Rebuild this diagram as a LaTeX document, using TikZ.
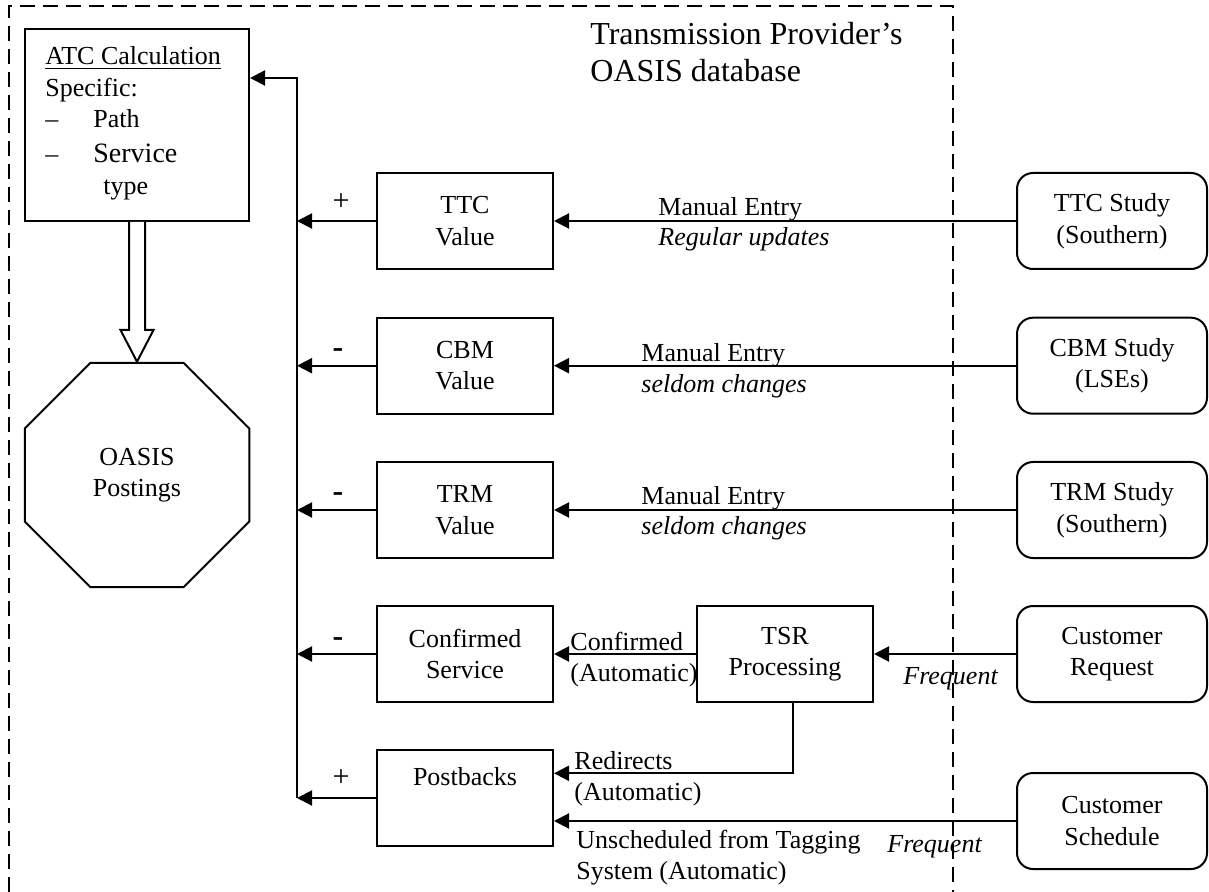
\documentclass[tikz,border=0pt]{standalone}
\usepackage{fontspec}
\setmainfont{Liberation Serif}
\usetikzlibrary{shapes.geometric,arrows.meta,calc}
\begin{document}
\begin{tikzpicture}[x=0.5pt,y=-0.5pt,
  every node/.style={font=\fontsize{13}{15.8}\selectfont},
  box/.style={draw,line width=1pt,minimum width=88pt,minimum height=48pt,inner sep=0pt,align=center},
  rbox/.style={draw,line width=1pt,rounded corners=8pt,minimum width=95pt,minimum height=48pt,inner sep=0pt,align=center},
  arr/.style={line width=1pt,-{Triangle[length=7.5pt,width=7.5pt]}},
  lbl/.style={anchor=base west,inner sep=0pt},
  sign/.style={inner sep=0pt,font=\fontsize{15}{17}\selectfont},
  minus/.style={inner sep=0pt,font=\fontsize{16}{18}\selectfont\bfseries},
  border/.style={line width=1pt,dash pattern=on 7.5pt off 4pt}]
\useasboundingbox (0,0) rectangle (1209,892);
% provider border
\draw[border] (9,892) -- (9,6) -- (953,6) -- (953,892);
\node[lbl,font=\fontsize{16}{18}\selectfont] (title1) at (590,45) {Transmission Provider’s};
\node[lbl,font=\fontsize{16}{18}\selectfont] (title2) at (590,81.7) {OASIS database};
% ATC box
\node[draw,line width=1pt,minimum width=112pt,minimum height=96pt,inner sep=0pt] (atc) at (137,125) {};
\node[lbl] (atc1) at (45,65) {\underline{ATC Calculation}};
\node[lbl] (atc2) at (45,96.7) {Specific:};
\node[lbl] (atc3a) at (45,128) {–};
\node[lbl] (atc3b) at (93,128) {Path};
\node[lbl] (atc4a) at (45,163) {–};
\node[lbl,font=\fontsize{14}{16}\selectfont] (atc4b) at (93,163) {Service};
\node[lbl] (atc5) at (103,195) {type};
% octagon
\node[draw,line width=1pt,regular polygon,regular polygon sides=8,minimum size=121.5pt,inner sep=0pt,align=center] (oasis) at (137,475) {OASIS\\Postings};
% hollow arrow
\draw[line width=1pt,fill=white] ($(atc.south)+(-8,0)$) -- ($(atc.south)+(-8,108)$) -- ($(atc.south)+(-16.5,108)$) -- (oasis.north) -- ($(atc.south)+(16.5,108)$) -- ($(atc.south)+(8,108)$) -- ($(atc.south)+(8,0)$);
% value boxes
\node[box] (ttc) at (465,221) {TTC\\Value};
\node[box] (cbm) at (465,365.7) {CBM\\Value};
\node[box] (trm) at (465,510) {TRM\\Value};
\node[box] (conf) at (465,654) {Confirmed\\Service};
\node[box] (pb) at (465,798) {};
\node (pbtext) at (465,777) {Postbacks};
\node[box] (tsr) at (785,654) {TSR\\Processing};
% source boxes
\node[rbox] (ttcs) at (1112,221) {TTC Study\\(Southern)};
\node[rbox] (cbms) at (1112,365.7) {CBM Study\\(LSEs)};
\node[rbox] (trms) at (1112,510) {TRM Study\\(Southern)};
\node[rbox] (creq) at (1112,654) {Customer\\Request};
\node[rbox] (csch) at (1112,821) {Customer\\Schedule};
% bus
\coordinate (bustop) at (297,78);
\coordinate (busbot) at (297,798);
\draw[arr] (busbot) -- (bustop) -- (bustop -| atc.east);
\foreach \n in {ttc,cbm,trm,conf,pb} \draw[arr] (\n.west) -- (\n.west -| bustop);
% signs
\node[sign] (s1) at (341,202.5) {+};
\node[minus] (s2) at (338,353.3) {-};
\node[minus] (s3) at (338,497) {-};
\node[minus] (s4) at (338,641.7) {-};
\node[sign] (s5) at (341,778) {+};
% inputs
\draw[arr] (ttcs.west) -- (ttc.east);
\draw[arr] (cbms.west) -- (cbm.east);
\draw[arr] (trms.west) -- (trm.east);
\draw[arr] (creq.west) -- (tsr.east);
\draw[arr] (tsr.west) -- (conf.east);
\draw[arr] ($(tsr.south)+(8,0)$) |- ($(pb.east)+(0,-24.7)$);
\draw[arr] (csch.west) -- (csch.west -| pb.east);
% labels
\node[lbl] (l1a) at (658,216) {Manual Entry};
\node[lbl] (l1b) at (658,246) {\textit{Regular updates}};
\node[lbl] (l2a) at (641,361.7) {Manual Entry};
\node[lbl] (l2b) at (641,392.7) {\textit{seldom changes}};
\node[lbl] (l3a) at (641,504.5) {Manual Entry};
\node[lbl] (l3b) at (641,534) {\textit{seldom changes}};
\node[lbl] (l4a) at (570,650) {Confirmed};
\node[lbl] (l4b) at (570,681.7) {(Automatic)};
\node[lbl] (l5a) at (574,769.3) {Redirects};
\node[lbl] (l5b) at (574,800) {(Automatic)};
\node[lbl] (l6a) at (576,848.3) {Unscheduled from Tagging};
\node[lbl] (l6b) at (576,879) {System (Automatic)};
\node[lbl] (f1) at (903,684) {\textit{Frequent}};
\node[lbl] (f2) at (887,852.7) {\textit{Frequent}};
\end{tikzpicture}
\end{document}
